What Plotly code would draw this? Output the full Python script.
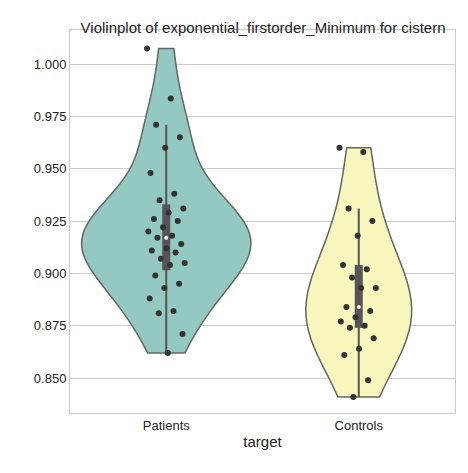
import numpy as np
import plotly.graph_objects as go

groups = ["Patients", "Controls"]
patients = [1.0075, 0.9836, 0.971, 0.965, 0.960, 0.948, 0.938, 0.935, 0.931, 0.929,
            0.926, 0.925, 0.922, 0.920, 0.918, 0.917, 0.914, 0.912, 0.911, 0.910,
            0.907, 0.905, 0.904, 0.899, 0.895, 0.893, 0.888, 0.882, 0.881, 0.871, 0.862]
controls = [0.960, 0.958, 0.931, 0.925, 0.918, 0.904, 0.902, 0.898, 0.893, 0.893,
            0.884, 0.882, 0.879, 0.877, 0.875, 0.874, 0.869, 0.864, 0.861, 0.849, 0.841]
fills = ["#93c9c0", "#f6f6bd"]
widths = [0.88, 0.55]
bandwidths = [0.016, 0.021]

fig = go.Figure()
for i, (vals, col, w, bw) in enumerate(zip([patients, controls], fills, widths, bandwidths)):
    v = np.array(vals)
    q1, med, q3 = np.percentile(v, [25, 50, 75])
    iqr = q3 - q1
    lo = v[v >= q1 - 1.5 * iqr].min()
    hi = v[v <= q3 + 1.5 * iqr].max()
    fig.add_trace(go.Violin(
        x=[i] * len(v), y=v, width=w, spanmode="hard", points=False, bandwidth=bw,
        fillcolor=col, opacity=1, line=dict(color="#666666", width=1.5),
        box_visible=False, meanline_visible=False, hoverinfo="skip",
    ))
    # whisker and IQR box like seaborn's inner="box"
    fig.add_trace(go.Scatter(x=[i, i], y=[lo, hi], mode="lines",
                             line=dict(color="#555555", width=2), hoverinfo="skip"))
    fig.add_trace(go.Scatter(x=[i, i], y=[q1, q3], mode="lines",
                             line=dict(color="#555555", width=8), hoverinfo="skip"))
    fig.add_trace(go.Scatter(x=[i], y=[med], mode="markers",
                             marker=dict(color="white", size=4), hoverinfo="skip"))
    # deterministic strip jitter
    jit = [((k * 0.618034) % 1 - 0.5) * 0.2 for k in range(len(v))]
    fig.add_trace(go.Scatter(x=[i + j for j in jit], y=v, mode="markers",
                             marker=dict(color="#333333", size=6), hoverinfo="skip"))

fig.update_layout(
    width=468, height=473, showlegend=False,
    plot_bgcolor="white", paper_bgcolor="white",
    font=dict(family="Liberation Sans, Arial, sans-serif", size=13, color="#222"),
    title=dict(text="Violinplot of exponential_firstorder_Minimum for cistern",
               x=0.545, xanchor="center", y=0.97, font=dict(size=15)),
    margin=dict(l=62, r=21, t=22, b=68),
)
fig.update_xaxes(range=[-0.5, 1.5], tickvals=[0, 1], ticktext=groups,
                 title=dict(text="target", font=dict(size=15), standoff=4),
                 showgrid=False, zeroline=False, showline=True, linecolor="#cccccc",
                 mirror=True, ticks="")
fig.update_yaxes(range=[0.8333, 1.0163], tickvals=[0.85, 0.875, 0.9, 0.925, 0.95, 0.975, 1.0],
                 tickformat=".3f", showgrid=True, gridcolor="#cccccc", zeroline=False,
                 showline=True, linecolor="#cccccc", mirror=True, ticks="")
fig.write_html("out.html")
